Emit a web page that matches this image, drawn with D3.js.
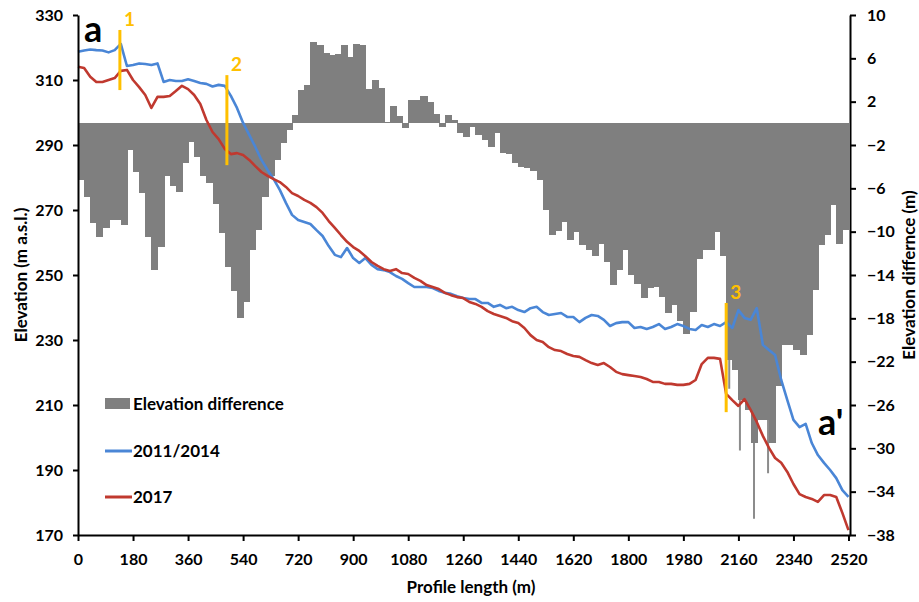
<!DOCTYPE html>
<html>
<head>
<meta charset="utf-8">
<script src="https://cdn.jsdelivr.net/npm/d3@7"></script>
<style>
  body { margin: 0; background: #fff; }
  svg { display: block; font-family: Lato, 'Open Sans', sans-serif; font-weight: bold; }
  .axis path, .axis line { stroke: #000; stroke-width: 2; }
  .axis text { font-size: 16px; font-weight: bold; fill: #000; font-family: Lato, 'Open Sans', sans-serif; }
  rect.diff { shape-rendering: crispEdges; }
</style>
</head>
<body>
<svg class="chart" width="919" height="602"></svg>
<script>
const profileStep = 20;

const elevation2014 = [
  318.7, 319.1, 319.4, 319.2, 319.1, 318.5, 319.2, 321.1, 314.3, 314.6,
  315.1, 314.9, 314.6, 315.1, 309.4, 310.0, 309.7, 309.7, 310.2, 309.7,
  309.1, 308.8, 308.0, 308.5, 308.2, 305.1, 301.4, 296.8, 293.1, 289.4,
  285.4, 282.3, 279.5, 276.2, 272.2, 268.5, 266.9, 266.3, 265.7, 263.8,
  262.0, 258.9, 256.2, 255.5, 258.3, 255.2, 253.7, 255.2, 253.1, 251.8,
  251.5, 250.9, 249.7, 248.8, 247.5, 246.3, 246.3, 246.3, 246.0, 245.1,
  244.5, 244.2, 243.5, 242.9, 242.6, 242.6, 241.4, 241.4, 240.2, 240.8,
  239.8, 240.2, 239.2, 238.6, 239.8, 240.2, 238.6, 237.7, 238.0, 238.3,
  237.1, 237.1, 235.5, 236.8, 237.7, 237.4, 236.2, 234.3, 235.2, 235.5,
  235.5, 233.7, 234.0, 233.4, 234.0, 234.9, 233.4, 234.0, 234.9, 234.3,
  233.4, 233.1, 234.6, 234.0, 234.9, 234.3, 235.5, 233.7, 239.2, 236.8,
  236.2, 239.8, 228.5, 226.9, 225.4, 217.7, 211.5, 205.4, 203.2, 204.2,
  198.3, 194.6, 192.2, 190.0, 187.5, 183.8, 181.7,
];

const elevation2017 = [
  314.1, 313.7, 311.0, 309.4, 309.4, 310.0, 310.6, 312.8, 313.1, 310.0,
  307.8, 305.4, 301.4, 304.8, 304.8, 305.1, 306.6, 308.2, 307.2, 305.4,
  302.6, 297.7, 294.0, 291.8, 288.8, 287.2, 287.5, 286.9, 285.4, 283.5,
  281.7, 280.5, 279.5, 278.6, 277.1, 275.2, 274.3, 273.1, 272.2, 270.9,
  269.1, 266.6, 264.5, 262.3, 260.2, 258.6, 257.4, 255.8, 254.0, 252.8,
  251.8, 251.2, 251.8, 250.6, 250.3, 249.1, 248.2, 246.9, 246.3, 245.7,
  244.5, 243.8, 243.2, 242.9, 241.7, 241.1, 240.2, 238.9, 238.0, 237.4,
  236.8, 235.8, 235.2, 233.7, 231.5, 230.0, 229.4, 227.8, 226.9, 226.6,
  225.7, 225.1, 224.8, 223.8, 222.9, 222.3, 222.9, 221.7, 220.2, 219.5,
  219.2, 218.9, 218.6, 218.0, 217.1, 217.1, 216.5, 216.5, 216.2, 216.2,
  216.5, 217.7, 222.6, 224.5, 224.5, 224.2, 213.4, 211.5, 209.7, 211.8,
  208.5, 204.8, 200.5, 196.8, 193.7, 192.2, 189.4, 185.7, 182.6, 181.7,
  181.1, 180.2, 182.3, 182.3, 181.7, 176.8, 171.5,
];

// one bar per 20 m section, starting at 0 m
const elevationDiff = [
  -5.2, -6.8, -9.2, -10.5, -9.7, -8.9, -8.9, -9.4, -2.5, -4.5,
  -6.4, -10.5, -13.5, -11.4, -4.9, -5.8, -6.3, -3.7, -1.7, -3.1,
  -4.9, -5.5, -7.4, -10.1, -13.3, -15.5, -18.0, -16.5, -11.7, -9.8,
  -6.8, -4.9, -3.4, -1.8, -0.6, 0.8, 3.1, 3.5, 7.5, 7.2,
  6.5, 6.3, 6.4, 7.2, 6.1, 7.3, 7.2, 3.2, 4.0, 3.3,
  0.1, 1.6, 0.7, -0.4, 2.2, 2.2, 2.5, 2.0, 0.9, -0.3,
  0.8, 0.3, -0.9, -1.3, -0.3, -1.1, -1.5, -2.2, -0.9, -2.7,
  -2.8, -3.7, -4.0, -4.1, -4.4, -5.2, -8.0, -10.3, -9.9, -9.1,
  -10.8, -10.0, -11.2, -11.7, -12.2, -11.1, -12.8, -14.9, -13.5, -11.7,
  -14.0, -14.8, -16.1, -15.2, -15.1, -16.0, -17.5, -16.8, -18.2, -19.4,
  -17.4, -12.5, -11.7, -11.7, -10.0, -12.2, -21.8, -22.8, -25.5, -26.5,
  -29.5, -27.4, -27.4, -29.5, -24.2, -20.5, -20.5, -20.9, -21.4, -19.5,
  -15.4, -11.2, -10.3, -7.5, -11.1, -9.8,
];

// narrow single-cell spikes inside the deep section
const spikeDist = [2130, 2165, 2211, 2257];
const spikeDiff = [-24.5, -30.2, -36.5, -32.3];

const markerLabels = ['1', '2', '3'];
const markerDist = [137, 487, 2120];
const markerTop = [325.4, 311.5, 241.4];
const markerBottom = [306.9, 283.8, 207.8];

const distTicks = [0, 180, 360, 540, 720, 900, 1080, 1260, 1440, 1620, 1800, 1980, 2160, 2340, 2520];
const elevTicks = [170, 190, 210, 230, 250, 270, 290, 310, 330];
const diffTicks = [-38, -34, -30, -26, -22, -18, -14, -10, -6, -2, 2, 6, 10];

const colors = {
  diff: '#7f7f7f', old: '#4a86d6', recent: '#c0392f', marker: '#ffc000',
};

const drawAxes = (chart, xScale, yLeft, yRight, width, height) => {
  const styleText = g => g.selectAll('text')
    .attr('font-size', 16)
    .attr('font-family', 'Lato, sans-serif')
    .attr('font-weight', 'bold');

  chart.append('g')
    .classed('axis', true)
    .call(d3.axisLeft(yLeft).tickValues(elevTicks).tickSize(5).tickPadding(10).tickSizeOuter(0))
    .call(styleText);

  chart.append('g')
    .classed('axis', true)
    .attr('transform', `translate(${width}, 0)`)
    .call(d3.axisRight(yRight).tickValues(diffTicks).tickSize(6).tickPadding(11).tickSizeOuter(0))
    .call(styleText);

  chart.append('g')
    .classed('axis', true)
    .attr('transform', `translate(0, ${height})`)
    .call(d3.axisBottom(xScale)
      .tickValues(distTicks)
      .tickFormat(d3.format('d'))
      .tickSize(6)
      .tickPadding(13)
      .tickSizeOuter(0))
    .call(styleText);
};

const setLabels = (chart, width, height) => {
  chart.append('text')
    .attr('transform', `translate(${-57}, ${height / 2}) rotate(-90)`)
    .attr('text-anchor', 'middle')
    .attr('dy', '0.35em')
    .attr('font-size', 17)
    .text('Elevation (m a.s.l.)');

  chart.append('text')
    .attr('transform', `translate(${width + 59}, ${height / 2}) rotate(-90)`)
    .attr('text-anchor', 'middle')
    .attr('dy', '0.35em')
    .attr('font-size', 17)
    .text('Elevation differnce (m)');

  chart.append('text')
    .attr('x', width / 2 + 7)
    .attr('y', height + 58)
    .attr('text-anchor', 'middle')
    .attr('font-size', 17)
    .text('Profile length (m)');

  chart.append('text')
    .attr('x', 6)
    .attr('y', 27)
    .attr('font-size', 36)
    .text('a');

  chart.append('text')
    .attr('x', 740)
    .attr('y', 420)
    .attr('font-size', 36)
    .text('a\'');
};

const drawLegend = (chart) => {
  const legend = chart.append('g').attr('transform', 'translate(27, 383)');
  legend.append('rect')
    .attr('width', 25)
    .attr('height', 11)
    .attr('fill', colors.diff);

  const items = [
    { label: 'Elevation difference', y: 6 },
    { label: '2011/2014', y: 53, color: colors.old },
    { label: '2017', y: 99, color: colors.recent },
  ];

  items.filter(({ color }) => color).forEach(({ y, color }) => {
    legend.append('line')
      .attr('x1', 0)
      .attr('x2', 27)
      .attr('y1', y)
      .attr('y2', y)
      .attr('stroke', color)
      .attr('stroke-width', 3);
  });

  legend.selectAll('text')
    .data(items)
    .enter()
    .append('text')
    .attr('x', 28)
    .attr('y', ({ y }) => y)
    .attr('dy', '0.35em')
    .attr('font-size', 17)
    .text(({ label }) => label);
};

const startApp = () => {
  const margin = {
    top: 15, left: 78, bottom: 67, right: 69,
  };
  const viewBox = { width: 919, height: 602 };
  const width = viewBox.width - margin.left - margin.right;
  const height = viewBox.height - margin.top - margin.bottom;

  const xScale = d3.scaleLinear().domain([0, 2525]).range([0, width]);
  const yLeft = d3.scaleLinear().domain([170, 330]).range([height, 0]);
  const yRight = d3.scaleLinear().domain([-38, 10]).range([height, 0]);

  const chart = d3.select('.chart')
    .attr('viewBox', `0 0 ${viewBox.width} ${viewBox.height}`)
    .append('g')
    .attr('transform', `translate(${margin.left}, ${margin.top})`);

  // spikes go under the wide bars so only their tips show
  chart.selectAll('rect.spike')
    .data(spikeDist.map((dist, i) => ({ dist, diff: spikeDiff[i] })))
    .enter()
    .append('rect')
    .classed('spike', true)
    .attr('x', ({ dist }) => xScale(dist) - 1)
    .attr('width', 2)
    .attr('y', yRight(0))
    .attr('height', ({ diff }) => yRight(diff) - yRight(0))
    .attr('fill', '#8c8c8c');

  const bars = elevationDiff.map((diff, i) => ({ dist: i * profileStep, diff }));
  chart.selectAll('rect.diff')
    .data(bars)
    .enter()
    .append('rect')
    .classed('diff', true)
    .attr('x', ({ dist }) => xScale(dist))
    .attr('width', xScale(profileStep) - xScale(0) + 1)
    .attr('y', ({ diff }) => Math.min(yRight(diff), yRight(0)))
    .attr('height', ({ diff }) => Math.abs(yRight(diff) - yRight(0)))
    .attr('fill', colors.diff);

  const line = d3.line()
    .x((d, i) => xScale(i * profileStep))
    .y(d => yLeft(d));

  chart.append('path')
    .datum(elevation2014)
    .attr('fill', 'none')
    .attr('stroke', colors.old)
    .attr('stroke-width', 2.6)
    .attr('stroke-linejoin', 'round')
    .attr('d', line);

  chart.append('path')
    .datum(elevation2017)
    .attr('fill', 'none')
    .attr('stroke', colors.recent)
    .attr('stroke-width', 2.6)
    .attr('stroke-linejoin', 'round')
    .attr('d', line);

  const markers = markerLabels.map((label, i) => ({
    label, dist: markerDist[i], top: markerTop[i], bottom: markerBottom[i],
  }));

  chart.selectAll('line.marker')
    .data(markers)
    .enter()
    .append('line')
    .classed('marker', true)
    .attr('x1', ({ dist }) => xScale(dist))
    .attr('x2', ({ dist }) => xScale(dist))
    .attr('y1', ({ top }) => yLeft(top))
    .attr('y2', ({ bottom }) => yLeft(bottom))
    .attr('stroke', colors.marker)
    .attr('stroke-width', 3);

  chart.selectAll('text.marker')
    .data(markers)
    .enter()
    .append('text')
    .classed('marker', true)
    .attr('x', ({ dist }) => xScale(dist) + 4)
    .attr('y', ({ top }) => yLeft(top) - 4)
    .attr('font-size', 19)
    .attr('fill', colors.marker)
    .text(({ label }) => label);

  drawAxes(chart, xScale, yLeft, yRight, width, height);
  setLabels(chart, width, height);
  drawLegend(chart);
};

window.onload = startApp;
</script>
</body>
</html>
